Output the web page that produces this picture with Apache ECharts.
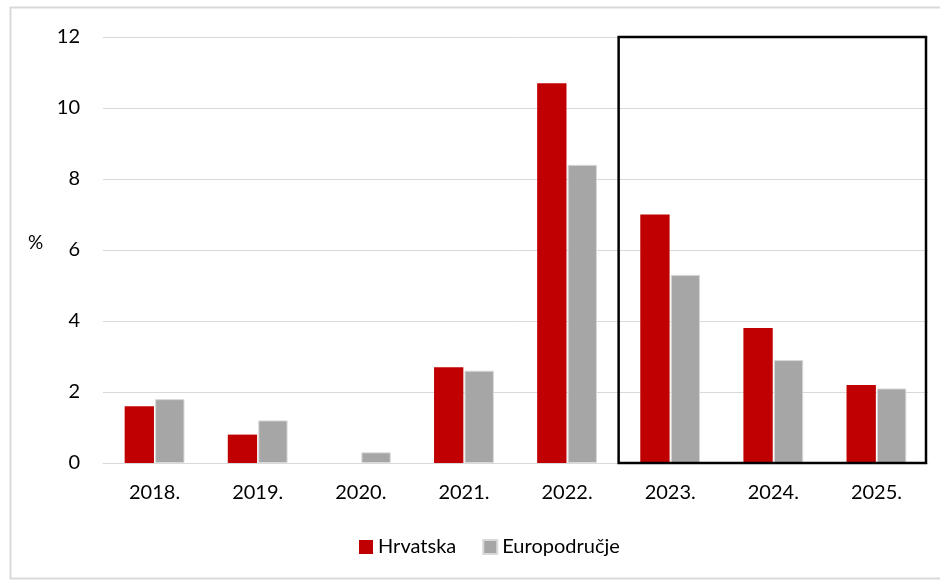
<!DOCTYPE html>
<html>
<head>
<meta charset="utf-8">
<script src="https://cdn.jsdelivr.net/npm/echarts@6/dist/echarts.min.js"></script>
<style>
  html, body { margin: 0; padding: 0; background: #fff; }
  #main { width: 940px; height: 582px; }
</style>
</head>
<body>
<div id="main"></div>
<script>
// podaci
var godine = ['2018.', '2019.', '2020.', '2021.', '2022.', '2023.', '2024.', '2025.'];
var hrvatska = [1.6, 0.8, 0, 2.7, 10.7, 7.0, 3.8, 2.2];
var europodrucje = [1.8, 1.2, 0.3, 2.6, 8.4, 5.3, 2.9, 2.1];
var yTicks = [0, 2, 4, 6, 8, 10, 12];

var font = 'Lato, "Open Sans", sans-serif';
var myChart = echarts.init(document.getElementById('main'));

var option = {
  animation: false,
  textStyle: { fontFamily: font },
  grid: { left: 103, right: 12, top: 37, bottom: 119 },
  legend: {
    bottom: 20,
    left: 354,
    itemWidth: 14,
    itemHeight: 14,
    itemGap: 26,
    icon: 'rect',
    textStyle: { fontSize: 20, color: '#000', fontFamily: font },
    data: ['Hrvatska', 'Europodručje']
  },
  xAxis: {
    type: 'category',
    data: godine,
    axisLine: { lineStyle: { color: '#d9d9d9', width: 1 } },
    axisTick: { show: false },
    axisLabel: { fontSize: 20, color: '#000', margin: 20 }
  },
  yAxis: {
    type: 'value',
    min: yTicks[0],
    max: yTicks[yTicks.length - 1],
    interval: 2,
    axisLine: { show: false },
    axisTick: { show: false },
    splitLine: { lineStyle: { color: '#d9d9d9', width: 1 } },
    axisLabel: { fontSize: 20, color: '#000', margin: 23 }
  },
  series: [
    {
      name: 'Hrvatska',
      type: 'bar',
      data: hrvatska,
      barGap: '4%',
      barCategoryGap: '42%',
      itemStyle: { color: '#c00000' }
    },
    {
      name: 'Europodručje',
      type: 'bar',
      data: europodrucje,
      itemStyle: { color: '#a6a6a6', borderColor: '#d9d9d9', borderWidth: 1 }
    }
  ]
};

myChart.setOption(option);

// okvir oko projekcija (2023.-2025.) i vanjski rub
var x0 = myChart.convertToPixel({ xAxisIndex: 0 }, '2023.');
var x1 = myChart.convertToPixel({ xAxisIndex: 0 }, '2025.');
var band = (x1 - x0) / 2;
var yTop = myChart.convertToPixel({ yAxisIndex: 0 }, 12);
var yBot = myChart.convertToPixel({ yAxisIndex: 0 }, 0);

myChart.setOption({
  graphic: [
    {
      type: 'rect',
      shape: { x: 10.5, y: 7.5, width: 940, height: 571 },
      style: { fill: null, stroke: '#d9d9d9', lineWidth: 2 },
      silent: true
    },
    {
      type: 'rect',
      shape: { x: x0 - band / 2, y: yTop, width: (x1 - x0) + band - 2, height: yBot - yTop },
      style: { fill: null, stroke: '#000', lineWidth: 2.5 },
      z: 100,
      silent: true
    },
    {
      type: 'text',
      left: 28,
      top: 233,
      style: { text: '%', fontSize: 19, fill: '#000', fontFamily: font }
    }
  ]
});
</script>
</body>
</html>
